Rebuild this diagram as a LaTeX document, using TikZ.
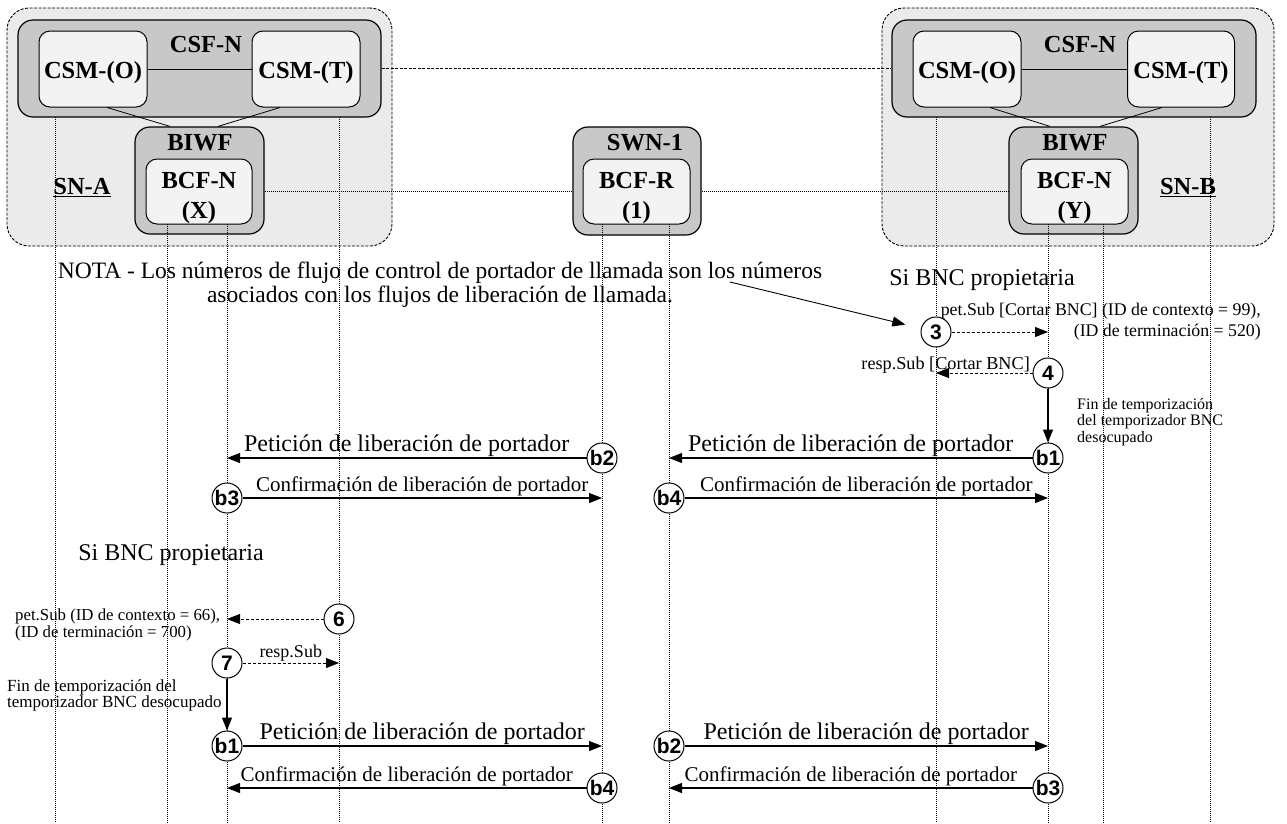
\documentclass[tikz,border=0pt]{standalone}
\usepackage{fontspec}
\setmainfont{Liberation Serif}
\newfontfamily\labelsans{Liberation Sans}
\usetikzlibrary{arrows.meta}

\definecolor{snfill}{HTML}{EBEBEB}
\definecolor{grpfill}{HTML}{C8C8C8}
\definecolor{unitfill}{HTML}{F3F3F3}

\begin{document}
\begin{tikzpicture}[x=1pt,y=-1pt,
  snbox/.style={draw, dash pattern=on 3pt off 1.5pt, line width=0.9pt, fill=snfill, rounded corners=22pt, inner sep=0pt},
  grpbox/.style={draw, line width=1.2pt, fill=grpfill, rounded corners=15pt, inner sep=0pt},
  unitbox/.style={draw, line width=1pt, fill=unitfill, rounded corners=11pt, inner sep=0pt},
  boxlabel/.style={font=\bfseries\fontsize{24.5}{30}\selectfont, inner sep=0pt, align=center},
  lifeline/.style={line width=0.7pt, dash pattern=on 1pt off 1pt},
  csflink/.style={line width=0.8pt, dash pattern=on 3pt off 1.5pt},
  bcflink/.style={line width=0.8pt, dash pattern=on 1pt off 1pt},
  msgarrow/.style={line width=1.1pt, -{Triangle[length=13pt,width=10pt]}},
  dasharrow/.style={line width=0.9pt, dash pattern=on 3pt off 2pt, -{Triangle[length=13pt,width=10pt]}},
  stepc/.style={circle, draw, line width=1pt, fill=white, minimum size=30pt, inner sep=0pt,
    font=\labelsans\bfseries\fontsize{21}{21}\selectfont},
  bigtxt/.style={font=\fontsize{24}{24}\selectfont, inner sep=1pt},
  conftxt/.style={font=\fontsize{21}{21}\selectfont, inner sep=1pt},
  smalltxt/.style={font=\fontsize{17}{17}\selectfont, inner sep=0pt},
]
\useasboundingbox (0,0) rectangle (1287,823);

% ---- signalling node A ----
\node[snbox, minimum width=385pt, minimum height=238pt] (snA) at (199.5,127) {};
\node[grpbox, minimum width=363pt, minimum height=97pt] (csfL) at (199.5,68.5) {};
\node[unitbox, minimum width=108pt, minimum height=76pt] (csmoL) at (93,69) {};
\node[unitbox, minimum width=108pt, minimum height=76pt] (csmtL) at (306,69) {};
\node[grpbox, minimum width=129pt, minimum height=107pt] (biwfL) at (199.5,180.5) {};
\node[unitbox, minimum width=106pt, minimum height=65pt] (bcfX) at (199,191.5) {};
\node[boxlabel] (tcsfL) at (206,45) {CSF-N};
\node[boxlabel] (tcsmoL) at (93,73) {CSM-(O)};
\node[boxlabel] (tcsmtL) at (306,73) {CSM-(T)};
\node[boxlabel] (tbiwfL) at (200,143) {BIWF};
\node[boxlabel] (tbcfX) at (199,198) {BCF-N\\(X)};
\node[boxlabel] (tsnA) at (82,188) {\underline{SN-A}};
\draw[line width=0.8pt] (csmoL.east) -- (csmtL.west);
\draw[line width=0.8pt] ([xshift=14pt]csmoL.south) -- ([xshift=-29.5pt]biwfL.north);
\draw[line width=0.8pt] ([xshift=-26pt]csmtL.south) -- ([xshift=18.5pt]biwfL.north);

% ---- signalling node B ----
\node[snbox, minimum width=392pt, minimum height=238pt] (snB) at (1078,127) {};
\node[grpbox, minimum width=364pt, minimum height=97pt] (csfR) at (1074,68.5) {};
\node[unitbox, minimum width=108pt, minimum height=76pt] (csmoR) at (967,69) {};
\node[unitbox, minimum width=107pt, minimum height=76pt] (csmtR) at (1181,69) {};
\node[grpbox, minimum width=129pt, minimum height=107pt] (biwfR) at (1073.5,180.5) {};
\node[unitbox, minimum width=107pt, minimum height=65pt] (bcfY) at (1074.5,191.5) {};
\node[boxlabel] (tcsfR) at (1080,45) {CSF-N};
\node[boxlabel] (tcsmoR) at (967,73) {CSM-(O)};
\node[boxlabel] (tcsmtR) at (1181,73) {CSM-(T)};
\node[boxlabel] (tbiwfR) at (1075,143) {BIWF};
\node[boxlabel] (tbcfY) at (1074.5,198) {BCF-N\\(Y)};
\node[boxlabel] (tsnB) at (1188,188) {\underline{SN-B}};
\draw[line width=0.8pt] (csmoR.east) -- (csmtR.west);
\draw[line width=0.8pt] ([xshift=23pt]csmoR.south) -- ([xshift=-23.5pt]biwfR.north);
\draw[line width=0.8pt] ([xshift=-19pt]csmtR.south) -- ([xshift=26.5pt]biwfR.north);

% ---- switching node ----
\node[grpbox, minimum width=128pt, minimum height=108pt] (swn) at (637,181) {};
\node[unitbox, minimum width=107pt, minimum height=65pt] (bcfR) at (636.5,191.5) {};
\node[boxlabel] (tswn) at (645,143) {SWN-1};
\node[boxlabel] (tbcfR) at (636.5,198) {BCF-R\\(1)};

% ---- links between nodes ----
\draw[csflink] (csfL.east) -- (csfR.west);
\draw[bcflink] (biwfL.east |- bcfX) -- (swn.west |- bcfR);
\draw[bcflink] (swn.east |- bcfR) -- (biwfR.west |- bcfY);

% ---- lifelines ----
\coordinate (bot) at (0,823);
\coordinate (lA1) at (55,117);
\coordinate (lA2) at (167,224);
\coordinate (lA3) at (227,224);
\coordinate (lA4) at (339,117);
\coordinate (lS1) at (602,224);
\coordinate (lS2) at (669,224);
\coordinate (lB1) at (936,117);
\coordinate (lB2) at (1048,224);
\coordinate (lB3) at (1103,224);
\coordinate (lB4) at (1210,117);
\foreach \l in {lA1,lA2,lA3,lA4,lS1,lS2,lB1,lB2,lB3,lB4}
  \draw[lifeline] (\l) -- (\l |- bot);

% ---- note ----
\node[font=\fontsize{23.5}{24}\selectfont, align=center, inner sep=0pt] (note) at (440,285)
  {NOTA - Los números de flujo de control de portador de llamada son los números\\
   asociados con los flujos de liberación de llamada.};
\coordinate (notetail) at (730,282);

% ---- release at node B (upper part) ----
\node[bigtxt] (ifB) at (982,280) {Si BNC propietaria};
\node[stepc] (c3) at (936,332) {3};
\node[stepc] (c4) at (1048,373) {4};
\draw[line width=0.9pt, -{Triangle[length=13pt,width=10pt]}, shorten >=16pt] (notetail) -- (c3);
\draw[dasharrow] (c3) -- (c3 -| lB2);
\node[smalltxt, align=right, anchor=east, font=\fontsize{17.8}{17.8}\selectfont] (subB) at (1261,321.5)
  {pet.Sub [Cortar BNC] (ID de contexto = 99),\\[3pt](ID de terminación = 520)};
\draw[dasharrow] (c4) -- (c4 -| lB1);
\node[smalltxt, anchor=east, font=\fontsize{18.2}{18.2}\selectfont] (respB) at (1030,365) {resp.Sub [Cortar BNC]};
\node[smalltxt, align=left, anchor=north west, font=\fontsize{16}{16.5}\selectfont] (timerB) at (1077,398)
  {Fin de temporización\\del temporizador BNC\\desocupado};

\node[stepc] (b1r) at (1048,458) {b1};
\node[stepc] (b2m) at (602,458) {b2};
\node[stepc] (b3m) at (227,498) {b3};
\node[stepc] (b4m) at (669,498) {b4};
\draw[msgarrow] (c4) -- (b1r);
\draw[msgarrow] (b1r) -- (b1r -| lS2) node[midway, above, bigtxt] {Petición de liberación de portador};
\draw[msgarrow] (b2m) -- (b2m -| lA3) node[midway, above, bigtxt] {Petición de liberación de portador};
\draw[msgarrow] (b3m) -- (b3m -| lS1) node[midway, above, conftxt] {Confirmación de liberación de portador};
\draw[msgarrow] (b4m) -- (b4m -| lB2) node[midway, above, conftxt] {Confirmación de liberación de portador};

% ---- release at node A (lower part) ----
\node[bigtxt] (ifA) at (171,555) {Si BNC propietaria};
\node[stepc] (c6) at (339,619) {6};
\node[stepc] (c7) at (227,663) {7};
\draw[dasharrow] (c6) -- (c6 -| lA3);
\node[smalltxt, align=left, anchor=west, font=\fontsize{16.8}{14.5}\selectfont] (subA) at (15,625)
  {pet.Sub (ID de contexto = 66),\\(ID de terminación = 700)};
\draw[dasharrow] (c7) -- (c7 -| lA4) node[midway, above, smalltxt, inner sep=1pt, font=\fontsize{18}{18}\selectfont] {resp.Sub};
\node[smalltxt, align=left, anchor=west, font=\fontsize{17}{16}\selectfont] (timerA) at (7,695)
  {Fin de temporización del\\temporizador BNC desocupado};

\node[stepc] (b1l) at (227,746) {b1};
\node[stepc] (b2l) at (669,746) {b2};
\node[stepc] (b4l) at (602,788) {b4};
\node[stepc] (b3r) at (1048,788) {b3};
\draw[msgarrow] (c7) -- (b1l);
\draw[msgarrow] (b1l) -- (b1l -| lS1) node[midway, above, bigtxt] {Petición de liberación de portador};
\draw[msgarrow] (b2l) -- (b2l -| lB2) node[midway, above, bigtxt] {Petición de liberación de portador};
\draw[msgarrow] (b4l) -- (b4l -| lA3) node[midway, above, conftxt] {Confirmación de liberación de portador};
\draw[msgarrow] (b3r) -- (b3r -| lS2) node[midway, above, conftxt] {Confirmación de liberación de portador};
\end{tikzpicture}
\end{document}
